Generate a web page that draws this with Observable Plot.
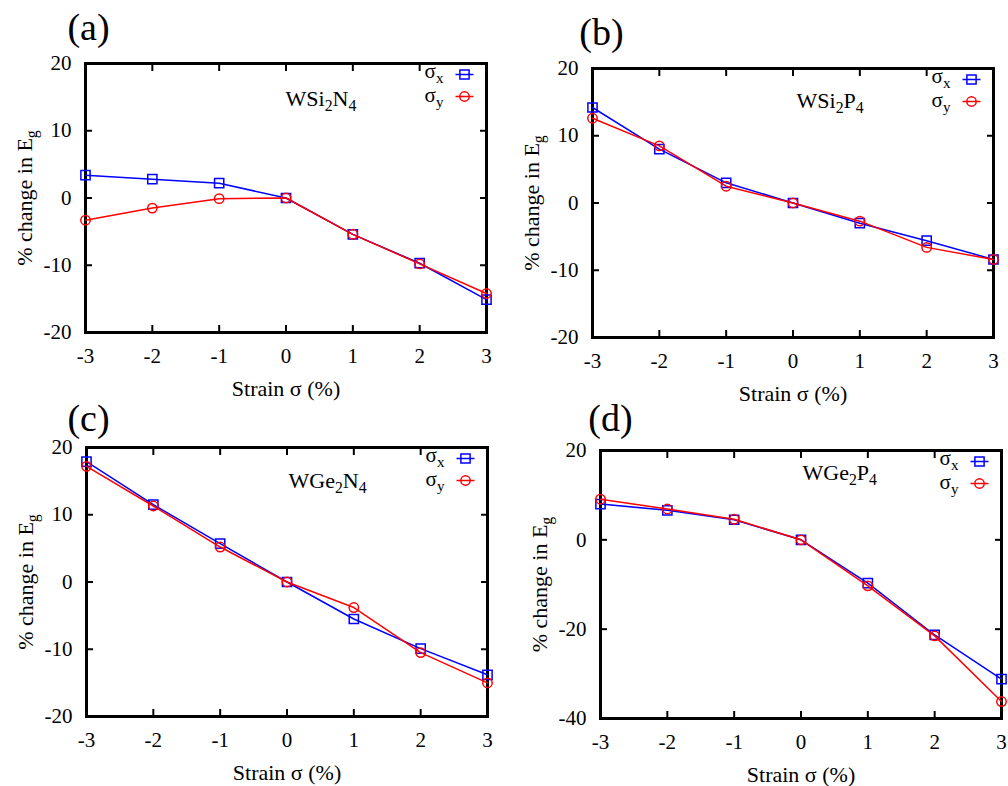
<!DOCTYPE html>
<html><head><meta charset="utf-8">
<script src="https://cdn.jsdelivr.net/npm/d3@7"></script>
<script src="https://cdn.jsdelivr.net/npm/@observablehq/plot@0.6"></script>
<style>
html,body{margin:0;padding:0;background:#fff;}
#wrap{position:relative;width:1008px;height:786px;overflow:hidden;background:#fff;}
.panel{position:absolute;}
.panel svg{overflow:visible;}
</style></head><body><div id="wrap"></div>
<script>
// ---- data ----
const strain = [-3, -2, -1, 0, 1, 2, 3];
const panelLetters = ["(a)", "(b)", "(c)", "(d)"];
const materials = ["WSi_2N_4", "WSi_2P_4", "WGe_2N_4", "WGe_2P_4"];
const legendLabels = ["σ_x", "σ_y"];
const xLabel = "Strain σ (%)";
const yLabel = "% change in E_g";

const aSigmaX = [3.4, 2.8, 2.2, 0, -5.4, -9.7, -15.1];
const aSigmaY = [-3.3, -1.5, -0.1, 0, -5.4, -9.8, -14.2];
const bSigmaX = [14.2, 8.0, 3.0, 0, -3.0, -5.6, -8.4];
const bSigmaY = [12.6, 8.5, 2.5, 0, -2.7, -6.6, -8.4];
const cSigmaX = [17.9, 11.5, 5.7, 0, -5.5, -9.9, -13.8];
const cSigmaY = [17.2, 11.3, 5.2, 0, -3.8, -10.5, -15.0];
const dSigmaX = [8.0, 6.6, 4.5, 0, -9.7, -21.3, -31.2];
const dSigmaY = [9.1, 6.9, 4.6, 0, -10.3, -21.5, -36.2];

const yTicksSmall = [-20, -10, 0, 10, 20];
const yTicksLarge = [-40, -20, 0, 20];

// ---- layout ----
const seriesX = [aSigmaX, bSigmaX, cSigmaX, dSigmaX];
const seriesY = [aSigmaY, bSigmaY, cSigmaY, dSigmaY];
const yTickSets = [yTicksSmall, yTicksSmall, yTicksSmall, yTicksLarge];
const panelPos = [[0, 0], [504, 0], [0, 393], [504, 393]];
const margins = [[63, 18, 61, 85], [68, 15, 56, 88], [54, 17, 70, 86], [57, 7, 68, 96]]; // t r b l
const letterOff = [[3, -36], [9, -36], [2, -29], [10, -32]];
const matOff = [[200, 35], [204, 32], [202, 33], [202, 22]];

const BLUE = "#0000ff", RED = "#ff0000";
const FONT = "'Liberation Serif','Times New Roman',serif";
const FS_TICK = 21, FS_LABEL = 22, FS_MAT = 22, FS_LEG = 21, FS_LETTER = 38;

const legendSquare = {draw(ctx, size) {
  const s = Math.sqrt(size) / 2;
  ctx.moveTo(-9, 0); ctx.lineTo(9, 0);
  ctx.moveTo(-s, -s); ctx.lineTo(s, -s); ctx.lineTo(s, s); ctx.lineTo(-s, s); ctx.closePath();
}};
const legendCircle = {draw(ctx, size) {
  const r = Math.sqrt(size / Math.PI);
  ctx.moveTo(-9, 0); ctx.lineTo(9, 0);
  ctx.moveTo(r, 0); ctx.arc(0, 0, r, 0, 2 * Math.PI);
}};

function applySubs(svg) {
  const ns = "http://www.w3.org/2000/svg";
  svg.querySelectorAll("text").forEach(t => {
    const s = t.textContent;
    if (!s.includes("_")) return;
    const fs = parseFloat(getComputedStyle(t).fontSize) || FS_LABEL;
    const shift = fs * 0.25;
    const segs = [];
    let buf = "";
    for (let i = 0; i < s.length; i++) {
      if (s[i] === "_" && i + 1 < s.length) {
        if (buf) segs.push({t: buf, sub: false});
        buf = "";
        segs.push({t: s[i + 1], sub: true});
        i++;
      } else buf += s[i];
    }
    if (buf) segs.push({t: buf, sub: false});
    t.textContent = "";
    let prevSub = false;
    for (const g of segs) {
      const ts = document.createElementNS(ns, "tspan");
      ts.textContent = g.t;
      if (g.sub) {
        ts.setAttribute("font-size", (fs * 0.72) + "px");
        if (!prevSub) ts.setAttribute("dy", shift);
      } else if (prevSub) {
        ts.setAttribute("dy", -shift);
      }
      prevSub = g.sub;
      t.appendChild(ts);
    }
  });
}

function makePanel(k) {
  const [mt, mr, mb, ml] = margins[k];
  const yt = yTickSets[k];
  const rowsX = strain.map((s, i) => ({s, v: seriesX[k][i]}));
  const rowsY = strain.map((s, i) => ({s, v: seriesY[k][i]}));
  const fmt = d => String(d);
  const blank = () => "";
  const plot = Plot.plot({
    width: 504, height: 393,
    marginTop: mt, marginRight: mr, marginBottom: mb, marginLeft: ml,
    style: {fontFamily: FONT, fontSize: FS_TICK + "px", color: "black", background: "none", overflow: "visible"},
    x: {domain: [-3, 3], label: null},
    y: {domain: [yt[0], yt[yt.length - 1]], label: null},
    marks: [
      Plot.axisX(strain, {tickSize: -7, strokeWidth: 2, tickFormat: blank, label: null}),
      Plot.axisX(strain, {anchor: "top", tickSize: -7, strokeWidth: 2, tickFormat: blank, label: null}),
      Plot.axisY(yt, {tickSize: -7, strokeWidth: 2, tickFormat: blank, label: null}),
      Plot.axisY(yt, {anchor: "right", tickSize: -7, strokeWidth: 2, tickFormat: blank, label: null}),
      Plot.axisX(strain, {tickSize: 0, tickPadding: 16, tickFormat: fmt, label: null, fontSize: FS_TICK}),
      Plot.axisY(yt, {tickSize: 0, tickPadding: 14, tickFormat: fmt, label: null, fontSize: FS_TICK}),
      Plot.frame({stroke: "black", strokeWidth: 3}),
      Plot.text([xLabel], {frameAnchor: "bottom", dy: 56, textAnchor: "middle", lineAnchor: "middle", text: d => d, fontSize: FS_LABEL}),
      Plot.text([yLabel], {frameAnchor: "left", dx: -61, rotate: -90, textAnchor: "middle", lineAnchor: "middle", text: d => d, fontSize: FS_LABEL}),
      Plot.text([panelLetters[k]], {frameAnchor: "top-left", dx: letterOff[k][0], dy: letterOff[k][1], textAnchor: "middle", lineAnchor: "middle", text: d => d, fontSize: FS_LETTER}),
      Plot.text([materials[k]], {frameAnchor: "top-left", dx: matOff[k][0], dy: matOff[k][1], textAnchor: "start", lineAnchor: "middle", text: d => d, fontSize: FS_MAT}),
      // legend
      Plot.text([legendLabels[0]], {frameAnchor: "top-right", dx: -43, dy: 8, textAnchor: "end", lineAnchor: "middle", text: d => d, fontSize: FS_LEG}),
      Plot.text([legendLabels[1]], {frameAnchor: "top-right", dx: -43, dy: 32, textAnchor: "end", lineAnchor: "middle", text: d => d, fontSize: FS_LEG}),
      Plot.dot([legendLabels[0]], {frameAnchor: "top-right", dx: -22, dy: 11, symbol: legendSquare, r: 5.2, stroke: BLUE, strokeWidth: 1.5, fill: "none"}),
      Plot.dot([legendLabels[1]], {frameAnchor: "top-right", dx: -22, dy: 33, symbol: legendCircle, r: 4.7, stroke: RED, strokeWidth: 1.5, fill: "none"}),
      // data
      Plot.line(rowsX, {x: "s", y: "v", stroke: BLUE, strokeWidth: 1.5}),
      Plot.dot(rowsX, {x: "s", y: "v", symbol: "square", r: 5.2, stroke: BLUE, strokeWidth: 1.5, fill: "none"}),
      Plot.line(rowsY, {x: "s", y: "v", stroke: RED, strokeWidth: 1.5}),
      Plot.dot(rowsY, {x: "s", y: "v", symbol: "circle", r: 4.7, stroke: RED, strokeWidth: 1.5, fill: "none"})
    ]
  });
  const div = document.createElement("div");
  div.className = "panel";
  div.style.left = panelPos[k][0] + "px";
  div.style.top = panelPos[k][1] + "px";
  div.appendChild(plot);
  document.getElementById("wrap").appendChild(div);
  applySubs(plot);
}

for (let k = 0; k < 4; k++) makePanel(k);
</script>
</body></html>
